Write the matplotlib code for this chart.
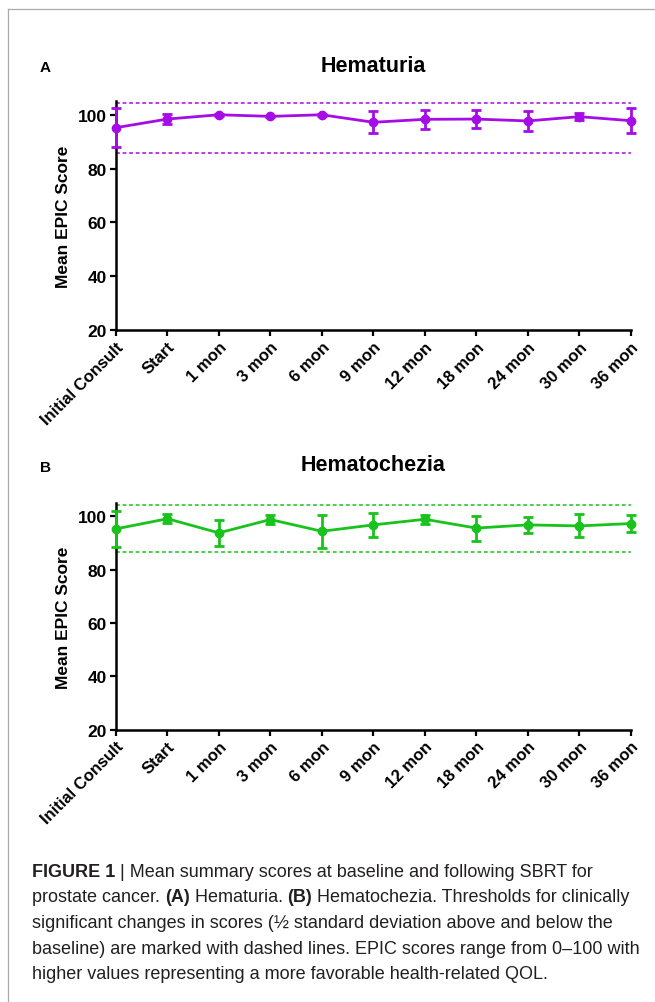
import numpy as np
import matplotlib.pyplot as plt
from matplotlib.lines import Line2D

plt.rcParams['font.family'] = ['Liberation Sans', 'DejaVu Sans']

categories = ["Initial Consult", "Start", "1 mon", "3 mon", "6 mon", "9 mon",
              "12 mon", "18 mon", "24 mon", "30 mon", "36 mon"]

# panel A - hematuria
hematuria_mean = [95.2, 98.4, 100.0, 99.4, 100.0, 97.2, 98.3, 98.4, 97.7, 99.3, 97.8]
hematuria_err = [7.3, 2.0, 0.3, 0.3, 0.3, 4.1, 3.5, 3.5, 3.6, 1.3, 4.6]
hematuria_thresh = [85.8, 104.3]

# panel B - hematochezia
hematochezia_mean = [95.3, 99.1, 93.8, 98.8, 94.4, 96.8, 98.9, 95.6, 96.8, 96.4, 97.3]
hematochezia_err = [6.8, 1.6, 5.0, 1.6, 6.1, 4.4, 1.6, 4.7, 3.1, 4.3, 3.2]
hematochezia_thresh = [86.5, 104.1]

yticks = [20, 40, 60, 80, 100]

fig = plt.figure(figsize=(6.55, 10.03), dpi=100)

def panel(rect, mean, err, thresh, color, title, letter, title_y):
    ax = fig.add_axes(rect)
    x = np.arange(len(categories))
    for t in thresh:
        ax.axhline(t, color=color, lw=1.1, ls=(0, (2.5, 1.8)), zorder=1)
    ax.errorbar(x, mean, yerr=err, color=color, lw=2, marker='o', ms=6,
                capsize=3.5, capthick=2, elinewidth=2, zorder=3, clip_on=False)
    ax.set_xlim(0, len(categories) - 1)
    ax.set_ylim(20, 105)
    ax.set_yticks(yticks)
    ax.set_xticks(x)
    ax.set_xticklabels(categories, rotation=45, ha='right', rotation_mode='anchor',
                       fontsize=12, fontweight='bold')
    for lab in ax.get_yticklabels():
        lab.set_fontweight('bold')
        lab.set_fontsize(12.5)
    for s in ['top', 'right']:
        ax.spines[s].set_visible(False)
    for s in ['left', 'bottom']:
        ax.spines[s].set_linewidth(1.8)
    ax.tick_params(width=1.6, length=4.5, pad=2)
    ax.set_ylabel("Mean EPIC Score", fontsize=12.5, fontweight='bold', labelpad=5)
    cx = rect[0] + rect[2] / 2
    fig.text(cx, 1 - title_y / 1003, title, fontsize=15.5, fontweight='bold',
             ha='center', va='center')
    fig.text(40 / 655, 1 - (title_y + 2) / 1003, letter, fontsize=11,
             fontweight='bold', va='center')
    return ax

panel([0.177, 0.670, 0.786, 0.228], hematuria_mean, hematuria_err,
      hematuria_thresh, '#A50CE6', "Hematuria", "A", 66)
panel([0.177, 0.2715, 0.786, 0.226], hematochezia_mean, hematochezia_err,
      hematochezia_thresh, '#19C21C', "Hematochezia", "B", 466)

# frame lines
fig.add_artist(Line2D([8 / 655, 8 / 655], [0, 1 - 10 / 1003], color='#aaaaaa', lw=0.9))
fig.add_artist(Line2D([8 / 655, 1], [1 - 10 / 1003, 1 - 10 / 1003], color='#aaaaaa', lw=0.9))

# caption
cap_lines = [
    [("FIGURE 1", True), (" | Mean summary scores at baseline and following SBRT for", False)],
    [("prostate cancer. ", False), ("(A)", True), (" Hematuria. ", False), ("(B)", True),
     (" Hematochezia. Thresholds for clinically", False)],
    [("significant changes in scores (\u00bd standard deviation above and below the", False)],
    [("baseline) are marked with dashed lines. EPIC scores range from 0\u2013100 with", False)],
    [("higher values representing a more favorable health-related QOL.", False)],
]
y0 = 1 - 877 / 1003
dy = 25.5 / 1003
for i, parts in enumerate(cap_lines):
    prev = None
    for txt, bold in parts:
        kw = dict(fontsize=13, color='#231f20',
                  fontweight='bold' if bold else 'normal')
        if prev is None:
            prev = fig.text(32 / 655, y0 - i * dy, txt, va='baseline', **kw)
        else:
            prev = fig.add_artist(plt.Annotation(txt, xy=(1, 0), xycoords=prev,
                                                 va='bottom', ha='left',
                                                 annotation_clip=False, **kw))

fig.savefig("out.png", dpi=100)
